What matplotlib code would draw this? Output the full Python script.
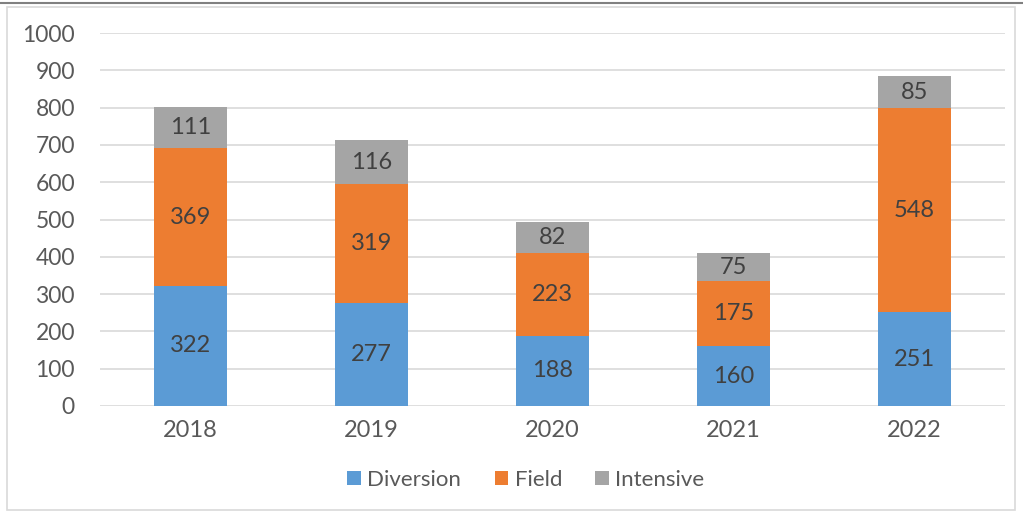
import matplotlib.pyplot as plt
from matplotlib.patches import Rectangle
from matplotlib.lines import Line2D

years = ['2018', '2019', '2020', '2021', '2022']
diversion = [322, 277, 188, 160, 251]
field = [369, 319, 223, 175, 548]
intensive = [111, 116, 82, 75, 85]

plt.rcParams['font.family'] = ['Lato', 'DejaVu Sans']

fig = plt.figure(figsize=(10.23, 5.12), dpi=100)
ax = fig.add_axes([100 / 1023, 1 - 406 / 512, 905 / 1023, 373 / 512])

x = range(len(years))
w = 0.4
b1 = ax.bar(x, diversion, w, color='#5b9bd5', label='Diversion', zorder=2)
bottom2 = diversion
b2 = ax.bar(x, field, w, bottom=bottom2, color='#ed7d31', label='Field', zorder=2)
bottom3 = [d + f for d, f in zip(diversion, field)]
b3 = ax.bar(x, intensive, w, bottom=bottom3, color='#a5a5a5', label='Intensive', zorder=2)

for bars in (b1, b2, b3):
    ax.bar_label(bars, label_type='center', fontsize=17, color='#404040')

ax.set_xlim(-0.5, 4.5)
ax.set_ylim(0, 1000)
ax.set_yticks(range(0, 1001, 100))
ax.set_xticks(list(x))
ax.set_xticklabels(years)
ax.grid(axis='y', color='#d9d9d9', linewidth=1.2, zorder=0)
for s in ax.spines.values():
    s.set_visible(False)
ax.tick_params(length=0, labelcolor='#595959')
ax.tick_params(axis='y', pad=18, labelsize=16.5)
ax.tick_params(axis='x', pad=10, labelsize=17)

ax.legend(loc='center', bbox_to_anchor=(526 / 1023, 1 - 480 / 512),
          bbox_transform=fig.transFigure, ncol=3, frameon=False,
          fontsize=16, labelcolor='#595959', handlelength=0.6, handleheight=0.6,
          handletextpad=0.3, columnspacing=1.5)

# chart border
fig.patches.append(Rectangle((7 / 1023, 2 / 512), 1008 / 1023, 503 / 512,
                             transform=fig.transFigure, fill=False,
                             edgecolor='#d9d9d9', linewidth=1.2))
fig.lines.append(Line2D([0, 1], [1 - 3 / 512, 1 - 3 / 512], transform=fig.transFigure,
                        color='#808080', linewidth=1.5))

fig.savefig('out.png', dpi=100)
